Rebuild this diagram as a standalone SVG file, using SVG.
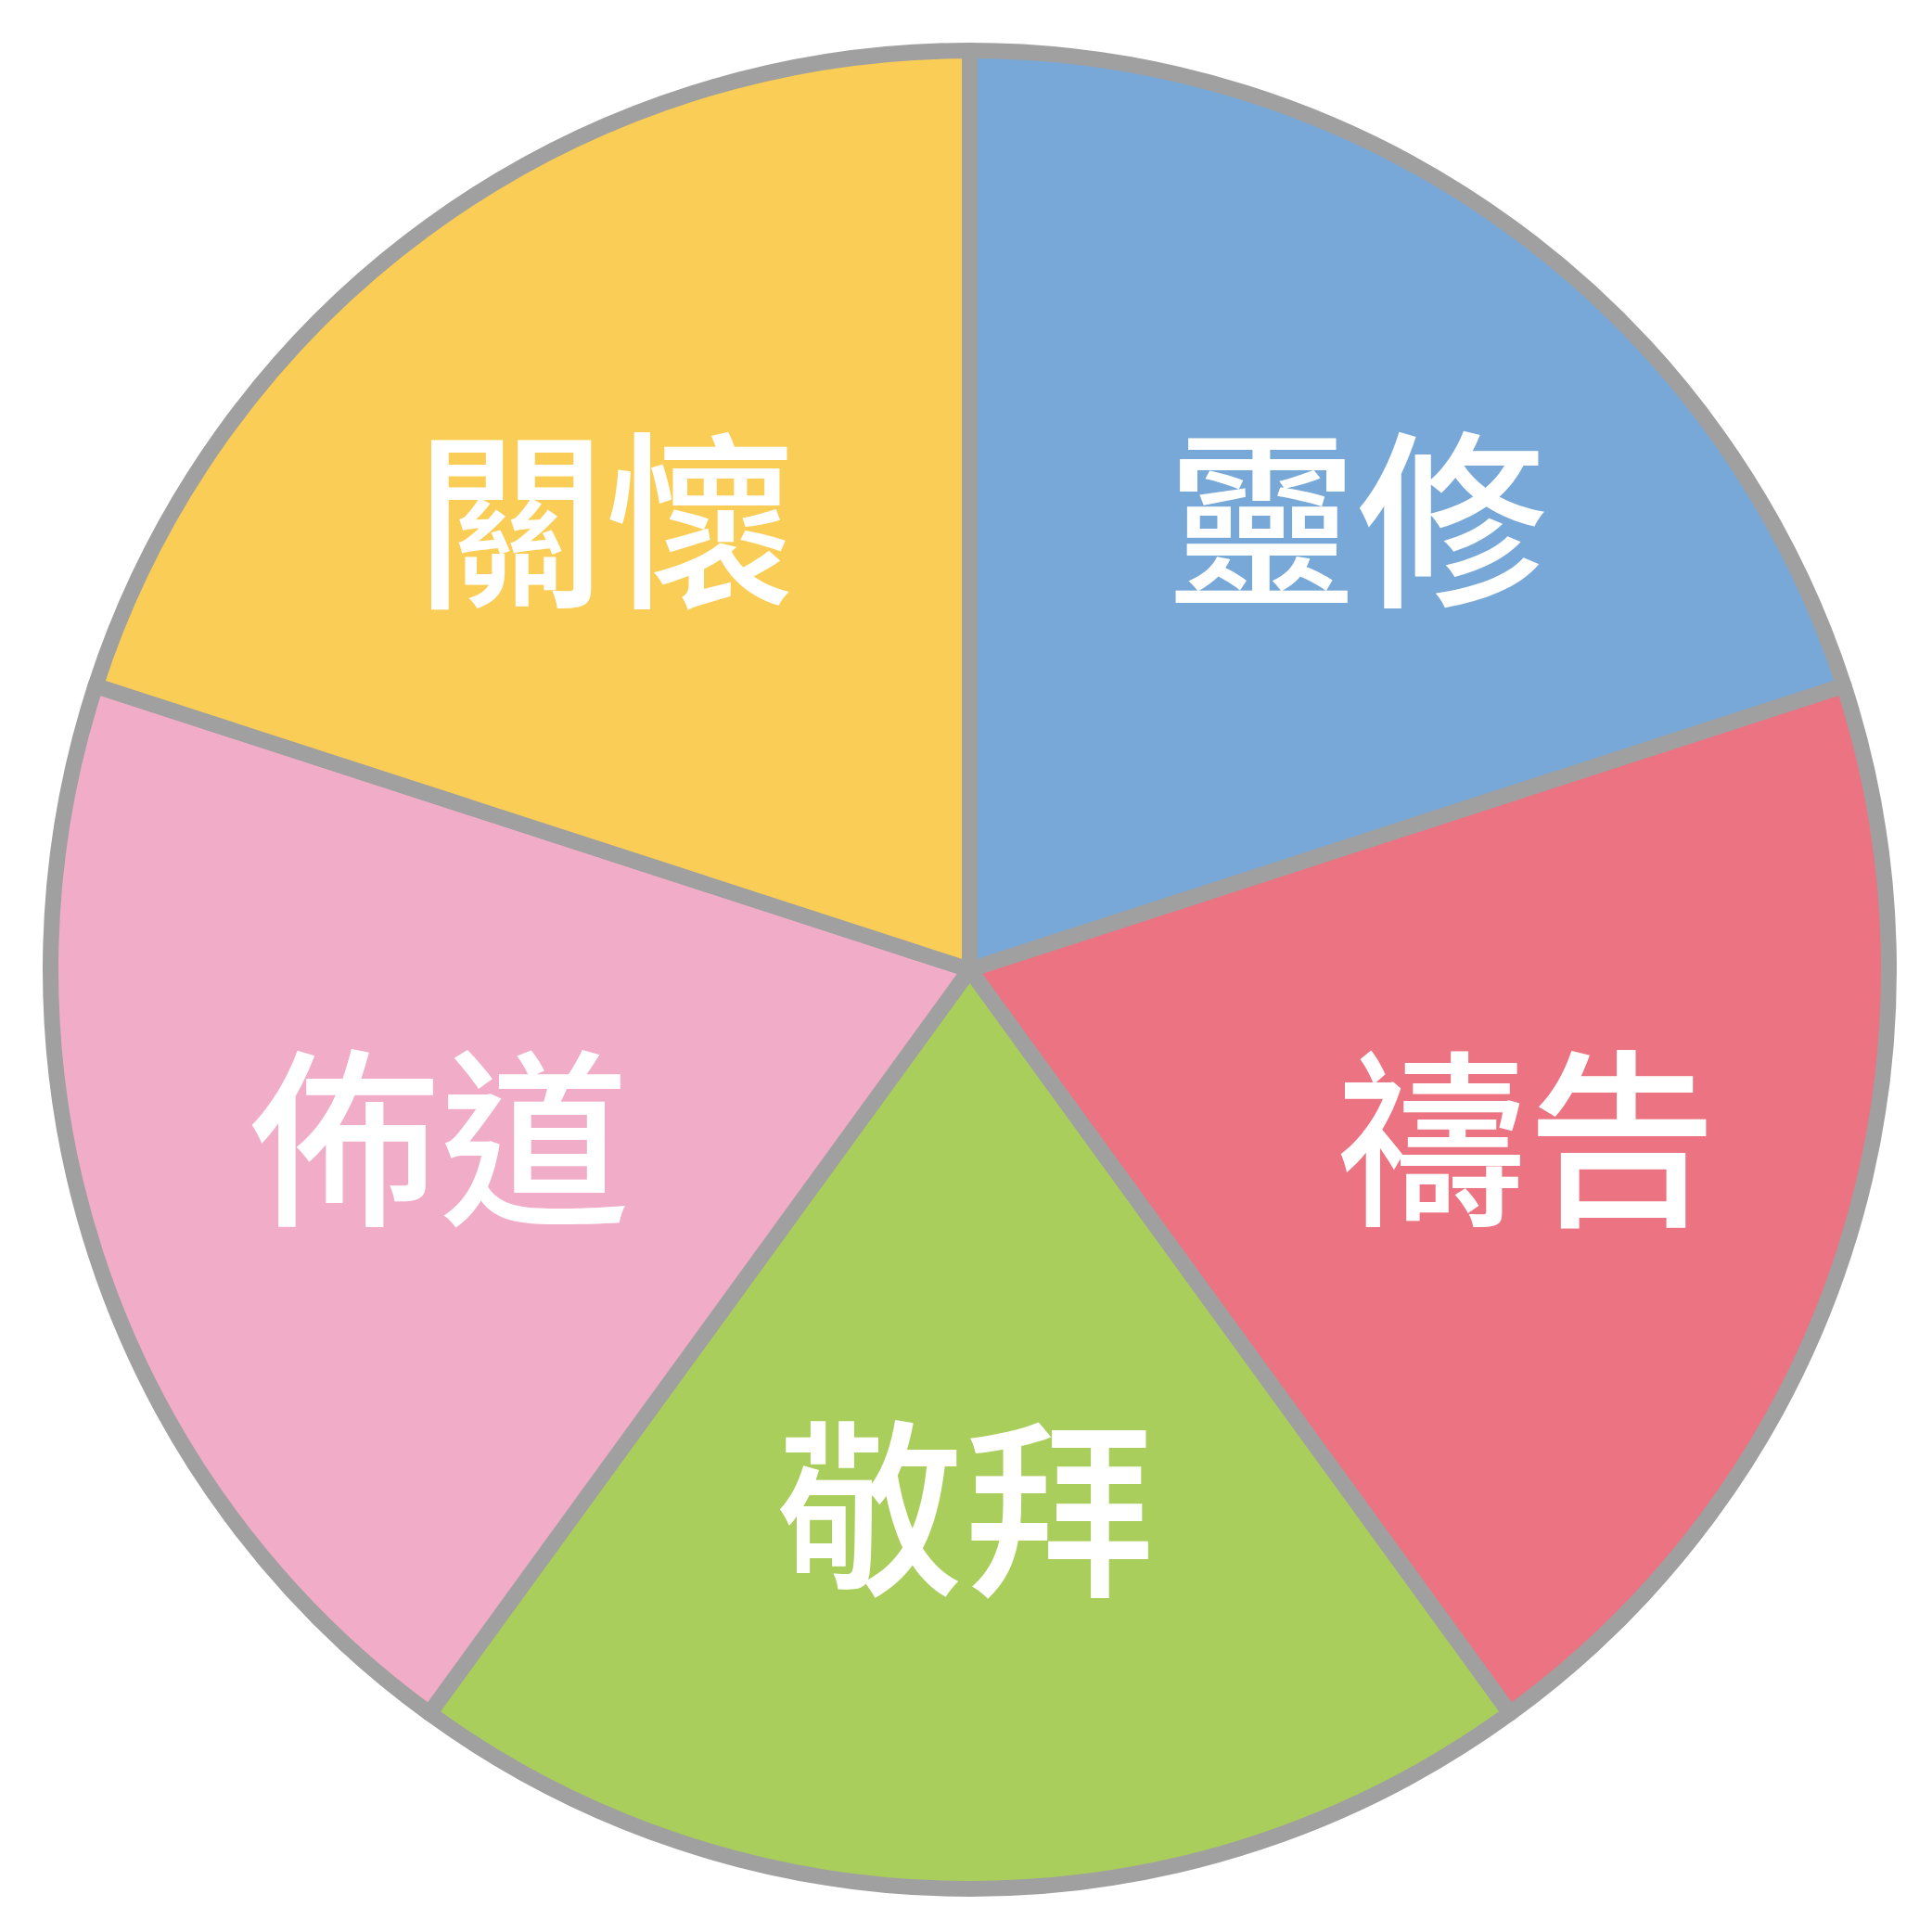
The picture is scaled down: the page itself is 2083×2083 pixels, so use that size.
<svg xmlns="http://www.w3.org/2000/svg" width="2083" height="2083" viewBox="0 0 2083 2083">
<style>
.slice{stroke:#A0A0A0;stroke-width:17;stroke-linejoin:round}
.lbl{font-family:"Noto Sans CJK TC","Noto Sans CJK SC",sans-serif;font-size:205px;fill:#FFFFFF;text-anchor:middle;font-weight:500}
</style>
<rect width="2083" height="2083" fill="#FFFFFF"/>
<g id="pie">
<g id="slice-lingxiu">
<path class="slice" fill="#78A8D8" d="M1045.5 1045.5 L1045.5 54.5 A991 991 0 0 1 1988 739.3 Z"/>
<text class="lbl" x="1463" y="638">靈修</text>
</g>
<g id="slice-daogao">
<path class="slice" fill="#EC7381" d="M1045.5 1045.5 L1988 739.3 A991 991 0 0 1 1628 1847.2 Z"/>
<text class="lbl" x="1646" y="1305">禱告</text>
</g>
<g id="slice-jingbai">
<path class="slice" fill="#AACE5C" d="M1045.5 1045.5 L1628 1847.2 A991 991 0 0 1 463 1847.2 Z"/>
<text class="lbl" x="1040" y="1705">敬拜</text>
</g>
<g id="slice-budao">
<path class="slice" fill="#F1ACC8" d="M1045.5 1045.5 L463 1847.2 A991 991 0 0 1 103 739.3 Z"/>
<text class="lbl" x="474" y="1305">佈道</text>
</g>
<g id="slice-guanhuai">
<path class="slice" fill="#FACD56" d="M1045.5 1045.5 L103 739.3 A991 991 0 0 1 1045.5 54.5 Z"/>
<text class="lbl" x="653" y="639">關懷</text>
</g>
</g>
</svg>
